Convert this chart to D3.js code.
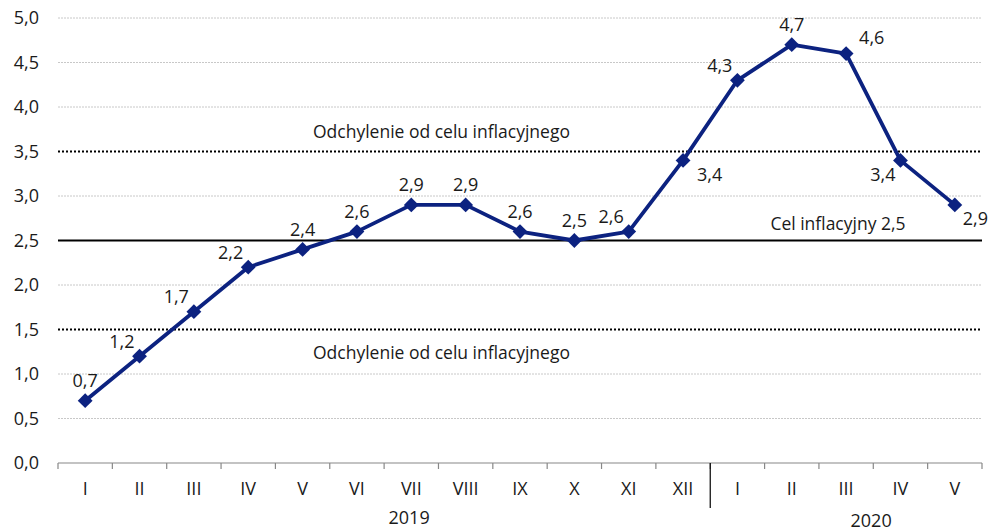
<!DOCTYPE html>
<html>
<head>
<meta charset="utf-8">
<script src="https://cdn.jsdelivr.net/npm/d3@7"></script>
<style>
  body { margin: 0; background: #fff; }
  text { font-family: "Open Sans", sans-serif; fill: #1a1a1a; }
</style>
</head>
<body>
<div id="chart"></div>
<script>
// months shown on the x axis, 2019 then 2020
const months = ["I","II","III","IV","V","VI","VII","VIII","IX","X","XI","XII","I","II","III","IV","V"];
const years = [{label: "2019", from: 0, to: 11}, {label: "2020", from: 12, to: 16}];
// CPI y/y, %
const cpi = [0.7, 1.2, 1.7, 2.2, 2.4, 2.6, 2.9, 2.9, 2.6, 2.5, 2.6, 3.4, 4.3, 4.7, 4.6, 3.4, 2.9];
const yTicks = [0, 0.5, 1, 1.5, 2, 2.5, 3, 3.5, 4, 4.5, 5];
const target = 2.5;
const band = [1.5, 3.5];
// where each value label sits relative to its point
const labelPos = ["up","upleft","upleft","upleft","up","up","up","up","up","up","upleft","downright",
                  "upleft","up","upright","downleft","downright"];

const width = 989, height = 531;
const margin = {top: 18, right: 7, bottom: 68, left: 58};
const innerW = width - margin.left - margin.right;
const innerH = height - margin.top - margin.bottom;

const svg = d3.select("#chart").append("svg")
    .attr("width", width)
    .attr("height", height);

const g = svg.append("g")
    .attr("transform", "translate(" + margin.left + "," + margin.top + ")");

const x = d3.scaleBand()
    .domain(d3.range(months.length))
    .range([0, innerW]);

const y = d3.scaleLinear()
    .domain([0, 5])
    .range([innerH, 0]);

const fmt = v => d3.format(".1f")(v).replace(".", ",");

// gridlines
g.selectAll(".grid")
    .data(yTicks.filter(t => t > 0 && !band.includes(t) && t !== target))
    .enter().append("line")
    .attr("class", "grid")
    .attr("x1", 0).attr("x2", innerW)
    .attr("y1", d => y(d)).attr("y2", d => y(d))
    .attr("stroke", "#c8c8c8")
    .attr("stroke-width", 1)
    .attr("stroke-dasharray", "2,1");

// y axis labels
g.selectAll(".ylab")
    .data(yTicks)
    .enter().append("text")
    .attr("class", "ylab")
    .attr("x", -19)
    .attr("y", d => y(d))
    .attr("dy", "0.35em")
    .attr("text-anchor", "end")
    .style("font-size", "18px")
    .text(fmt);

// tolerance band lines
g.selectAll(".band")
    .data(band)
    .enter().append("line")
    .attr("x1", 0).attr("x2", innerW)
    .attr("y1", d => y(d)).attr("y2", d => y(d))
    .attr("stroke", "#000")
    .attr("stroke-width", 2)
    .attr("stroke-dasharray", "2,2");

// target line
g.append("line")
    .attr("x1", 0).attr("x2", innerW)
    .attr("y1", y(target)).attr("y2", y(target))
    .attr("stroke", "#000")
    .attr("stroke-width", 2.2);

g.append("text")
    .attr("x", x(7) + 3).attr("y", y(band[1]) - 20)
    .attr("dy", "0.35em")
    .attr("text-anchor", "middle")
    .style("font-size", "17.5px")
    .text("Odchylenie od celu inflacyjnego");

g.append("text")
    .attr("x", x(7) + 3).attr("y", y(band[0]) + 23)
    .attr("dy", "0.35em")
    .attr("text-anchor", "middle")
    .style("font-size", "17.5px")
    .text("Odchylenie od celu inflacyjnego");

g.append("text")
    .attr("x", x(14) + x.bandwidth() * 0.35).attr("y", y(target) - 17)
    .attr("dy", "0.35em")
    .attr("text-anchor", "middle")
    .style("font-size", "17.5px")
    .text("Cel inflacyjny " + fmt(target));

// x axis
g.append("line")
    .attr("x1", 0).attr("x2", innerW)
    .attr("y1", innerH).attr("y2", innerH)
    .attr("stroke", "#888").attr("stroke-width", 1.2);

g.selectAll(".xtick")
    .data(d3.range(months.length + 1))
    .enter().append("line")
    .attr("x1", d => d * x.step()).attr("x2", d => d * x.step())
    .attr("y1", innerH).attr("y2", innerH + 6)
    .attr("stroke", "#888").attr("stroke-width", 1.2);

g.append("line")
    .attr("x1", x(12)).attr("x2", x(12))
    .attr("y1", innerH).attr("y2", innerH + 45)
    .attr("stroke", "#000").attr("stroke-width", 1.2);

g.selectAll(".xlab")
    .data(months)
    .enter().append("text")
    .attr("x", (d, i) => x(i) + x.bandwidth() / 2)
    .attr("y", innerH + 26)
    .attr("dy", "0.35em")
    .attr("text-anchor", "middle")
    .style("font-size", "18px")
    .text(d => d);

g.selectAll(".year")
    .data(years)
    .enter().append("text")
    .attr("x", d => (x(d.from) + x(d.to) + x.bandwidth()) / 2 + 25)
    .attr("y", (d, i) => innerH + 55 + i * 3)
    .attr("dy", "0.35em")
    .attr("text-anchor", "middle")
    .style("font-size", "18px")
    .text(d => d.label);

// series
const line = d3.line()
    .x((d, i) => x(i) + x.bandwidth() / 2)
    .y(d => y(d));

g.append("path")
    .datum(cpi)
    .attr("fill", "none")
    .attr("stroke", "#0c2280")
    .attr("stroke-width", 3.8)
    .attr("stroke-linejoin", "round")
    .attr("d", line);

g.selectAll(".pt")
    .data(cpi)
    .enter().append("path")
    .attr("transform", (d, i) => "translate(" + (x(i) + x.bandwidth() / 2) + "," + y(d) + ")")
    .attr("d", d3.symbol().type(d3.symbolDiamond2).size(140))
    .attr("fill", "#0c2280");

const offsets = {
    up: [0, -20, "middle"],
    upleft: [-5, -15, "end"],
    upright: [13, -16, "start"],
    downright: [14, 14, "start"],
    downleft: [-5, 14, "end"]
};

// last label would run past the right edge, so pull it in a little
const lastShift = i => (i === cpi.length - 1 ? -6 : 0);

g.selectAll(".vlab")
    .data(cpi)
    .enter().append("text")
    .attr("x", (d, i) => x(i) + x.bandwidth() / 2 + offsets[labelPos[i]][0] + lastShift(i))
    .attr("y", (d, i) => y(d) + offsets[labelPos[i]][1])
    .attr("dy", "0.35em")
    .attr("text-anchor", (d, i) => offsets[labelPos[i]][2])
    .style("font-size", "18px")
    .text(fmt);
</script>
</body>
</html>
